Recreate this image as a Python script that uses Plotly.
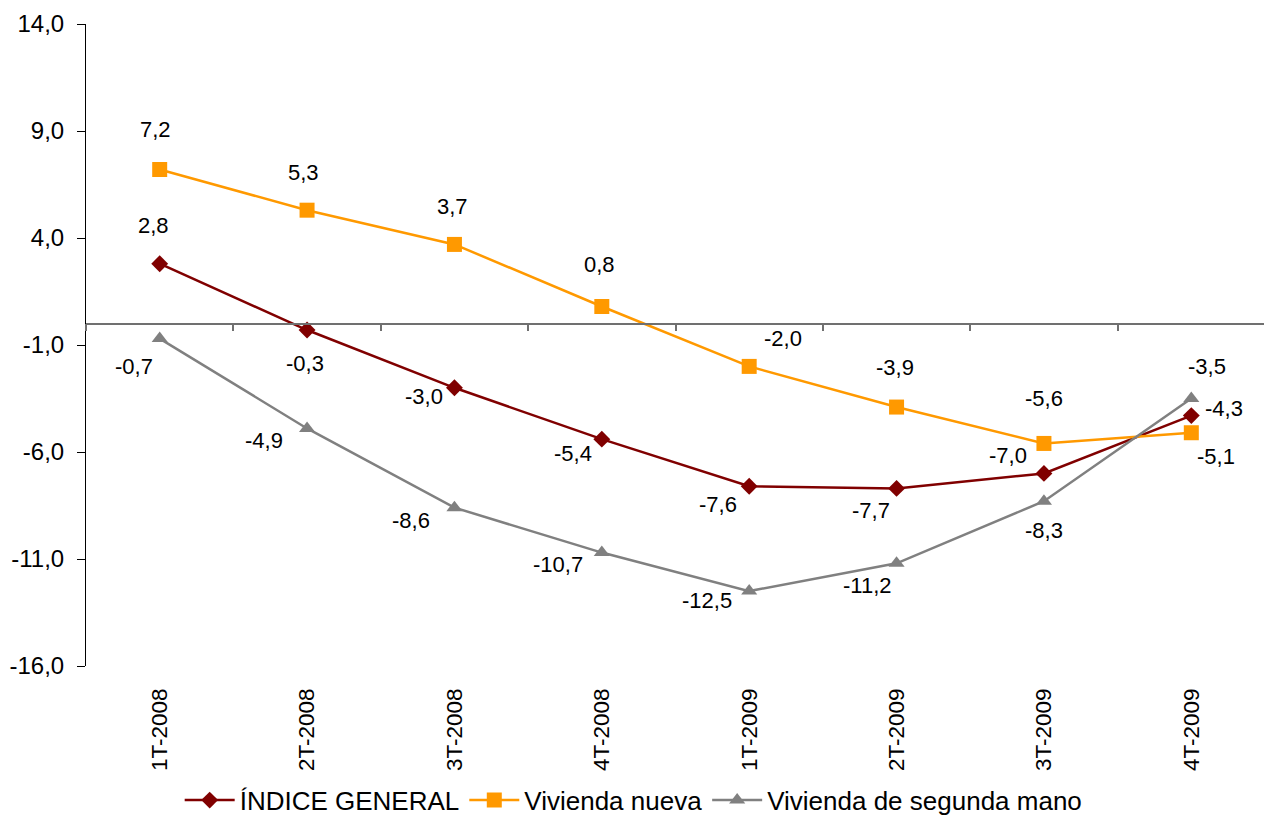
import plotly.graph_objects as go

categories = ["1T-2008", "2T-2008", "3T-2008", "4T-2008", "1T-2009", "2T-2009", "3T-2009", "4T-2009"]
indice_general = [2.8, -0.3, -3.0, -5.4, -7.6, -7.7, -7.0, -4.3]
vivienda_nueva = [7.2, 5.3, 3.7, 0.8, -2.0, -3.9, -5.6, -5.1]
vivienda_segunda = [-0.7, -4.9, -8.6, -10.7, -12.5, -11.2, -8.3, -3.5]
y_ticks = [14, 9, 4, -1, -6, -11, -16]

# label offsets (pixels) from each point: (dx, dy) with dy downward
off_indice = [(-6, -38), (-2, 33), (-30, 9), (-29, 14), (-31, 18), (-26, 22), (-36, -18), (33, -7)]
off_nueva = [(-4, -40), (-4, -38), (-2, -38), (-2, -42), (34, -28), (-2, -40), (0, -45), (25, 24)]
off_segunda = [(-26, 28), (-43, 12), (-43, 13), (-44, 12), (-42, 9), (-29, 22), (0, 29), (16, -32)]

FONT = "Liberation Sans, Arial, sans-serif"


def fmt(v):
    return f"{v:.1f}".replace(".", ",")


series = [
    ("ÍNDICE GENERAL", indice_general, "#800000", "diamond", 13, off_indice),
    ("Vivienda nueva", vivienda_nueva, "#FF9900", "square", 15, off_nueva),
    ("Vivienda de segunda mano", vivienda_segunda, "#808080", "triangle-up", 14, off_segunda),
]

fig = go.Figure()
annotations = []
for name, vals, color, sym, size, offs in series:
    fig.add_trace(go.Scatter(
        x=categories, y=vals, name=name, mode="lines+markers",
        line=dict(color=color, width=2.5),
        marker=dict(symbol=sym, size=size, color=color, line=dict(width=0)),
        hoverinfo="skip",
    ))
    for c, v, (dx, dy) in zip(categories, vals, offs):
        annotations.append(dict(
            x=c, y=v, xref="x", yref="y", showarrow=False,
            text=fmt(v), xshift=dx, yshift=-dy,
            font=dict(family=FONT, size=22, color="#000000"),
        ))

# invisible trace for the zero-line axis
fig.add_trace(go.Scatter(x=categories, y=[None] * len(categories), xaxis="x2",
                         showlegend=False, hoverinfo="skip", mode="lines"))

fig.update_layout(
    width=1264, height=810,
    margin=dict(l=78, r=7, t=16, b=152, autoexpand=False),
    paper_bgcolor="white", plot_bgcolor="white",
    font=dict(family=FONT, color="#000000"),
    showlegend=True,
    legend=dict(orientation="h", xref="container", yref="container",
                x=0.495, xanchor="center", y=0.022, yanchor="middle",
                font=dict(family=FONT, size=26, color="#000000"),
                itemwidth=50, tracegroupgap=0),
    xaxis=dict(type="category", categoryorder="array", categoryarray=categories,
               range=[-0.5, 7.5], showline=False, showgrid=False, zeroline=False,
               ticks="", tickangle=-90, ticklabelstandoff=17, automargin=False,
               tickfont=dict(family=FONT, size=22.5, color="#000000")),
    xaxis2=dict(type="category", categoryorder="array", categoryarray=categories,
                range=[-0.5, 7.5], overlaying="x", anchor="free", position=16 / 30,
                showline=True, linecolor="#707070", linewidth=1.5,
                ticks="outside", tickson="boundaries", ticklen=7, tickcolor="#707070",
                tickwidth=1.5, showticklabels=False, showgrid=False, zeroline=False,
                automargin=False),
    yaxis=dict(range=[-16, 14], tickvals=y_ticks, ticktext=[fmt(t) for t in y_ticks],
               showline=True, linecolor="#000000", linewidth=1,
               ticks="outside", ticklen=8, tickcolor="#000000",
               showgrid=False, zeroline=False, ticklabelstandoff=8, automargin=False,
               tickfont=dict(family=FONT, size=24, color="#000000")),
    annotations=annotations,
)

fig.write_html("out.html")
